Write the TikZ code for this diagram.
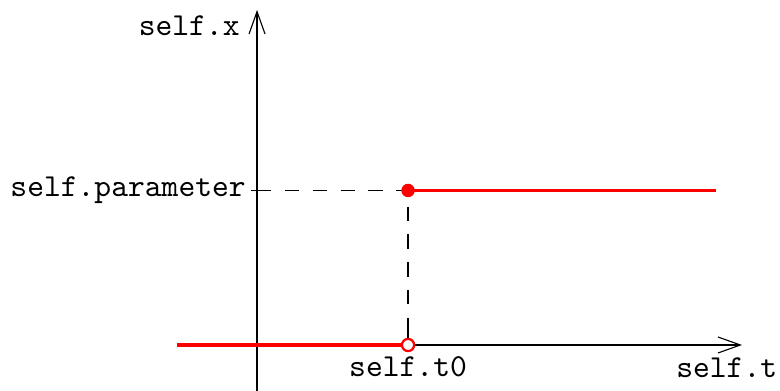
\documentclass[tikz,border=0pt]{standalone}
\usepackage{tikz}
\usetikzlibrary{positioning,arrows.meta,calc}

\begin{document}
\begin{tikzpicture}[x=1.68cm, y=1.68cm, font=\ttfamily,
        eixo/.style={line width=0.35pt, -{Straight Barb[length=7pt,width=5pt]}},
        vermelho/.style={red, line width=1.2pt},
        tracejado/.style={line width=0.35pt, dash pattern=on 4.5pt off 4.2pt},
        cheio/.style={circle, fill=red, inner sep=0pt, minimum size=4.2pt},
        vazio/.style={circle, draw=red, fill=white, line width=0.7pt, inner sep=0pt, minimum size=3.8pt}]
        \useasboundingbox (-1.68,-0.30) rectangle (3.418,2.255);

        % Pontos
        \coordinate (O) at (0,0);
        \coordinate (xini) at (-0.52,0);
        \coordinate (xfim) at (3.17,0);
        \coordinate (yini) at (0,-0.30);
        \coordinate (yfim) at (0,2.19);
        \coordinate (t0) at (0.987,0);
        \coordinate (par) at (0,1.01);
        \coordinate (salto) at (0.987,1.01);
        \coordinate (dfim) at (3,1.01);

        % Eixos
        \draw[eixo] (xini) -- (xfim);
        \draw[eixo] (yini) -- (yfim);
        \node[anchor=east] (lx) at (-0.04,2.09) {self.x};
        \node[below] (lt) at (3.07,-0.01) {self.t};

        % Marcas
        \draw[line width=0.35pt] ($(t0)+(0,-2pt)$) -- ($(t0)+(0,4pt)$);
        \draw[line width=0.35pt] ($(par)+(-2pt,0)$) -- ($(par)+(2pt,0)$);
        \node[left] (lpar) at (par) {self.parameter};
        \node[below] (lt0) at (t0) {self.t0};
        \draw[tracejado] (par) -- (salto) -- (t0);

        % Degrau
        \draw[vermelho] (xini) -- (t0);
        \draw[vermelho] (salto) -- (dfim);
        \node[cheio] (pcheio) at (salto) {};
        \node[vazio] (pvazio) at (t0) {};
\end{tikzpicture}
\end{document}
